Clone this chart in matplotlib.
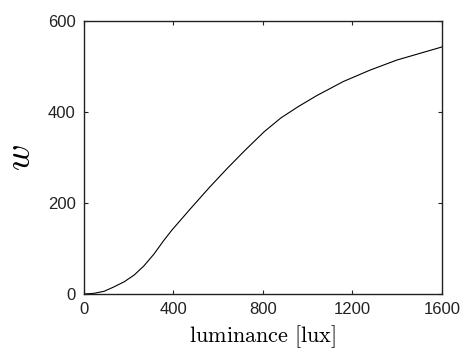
"""Luminance response curve w vs luminance."""

import matplotlib
matplotlib.use('Agg')
import matplotlib.pyplot as plt

# values
luminance = [0, 45, 90, 131, 180, 225, 268, 313, 354, 392, 475, 560,
             640, 720, 806, 880, 958, 1040, 1159, 1278, 1397, 1516, 1600]
w = [0, 1.5, 6, 15, 27, 42, 62, 88, 116, 140, 187, 234,
     276, 316, 357, 387, 412, 436, 467, 492, 514, 531, 543]

x_ticks = [0, 400, 800, 1200, 1600]
y_ticks = [0, 200, 400, 600]

plt.rcParams['mathtext.fontset'] = 'cm'
plt.rcParams['font.family'] = ['Liberation Sans', 'DejaVu Sans']

fig = plt.figure(figsize=(4.68, 3.55), dpi=100)
ax = fig.add_axes([0.1795, 0.1718, 0.7649, 0.769])

ax.plot(luminance, w, color='black', linewidth=0.8)

ax.set_xlim(0, 1600)
ax.set_ylim(0, 600)
ax.set_xticks(x_ticks)
ax.set_yticks(y_ticks)
ax.tick_params(direction='in', length=3, width=0.8, top=True, right=True,
               labelsize=12, pad=6, colors='#222222')
for s in ax.spines.values():
    s.set_linewidth(1.0)
    s.set_color('#222222')

ax.set_xlabel(r'$\mathrm{luminance\ [lux]}$', fontsize=16, labelpad=4)
ax.set_ylabel(r'$w$', fontsize=26, labelpad=7)

fig.savefig('out.png', dpi=100)
